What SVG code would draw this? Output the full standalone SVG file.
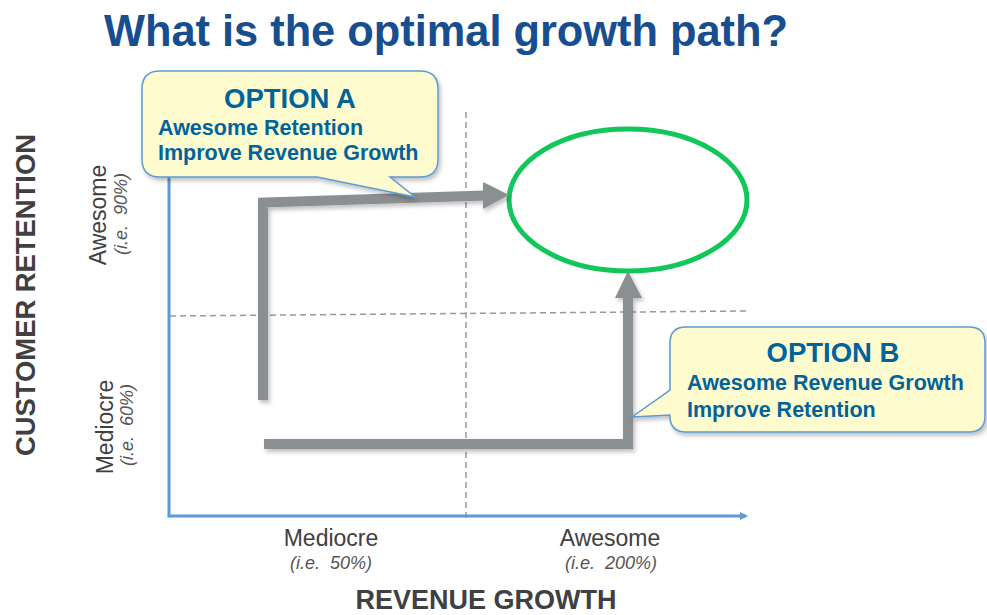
<svg xmlns="http://www.w3.org/2000/svg" width="987" height="615" viewBox="0 0 987 615">
<defs>
<style>
.axis{stroke:#5b9bd5;stroke-width:3;fill:none}
.dash{stroke:#9a9a9a;stroke-width:1.5;stroke-dasharray:6 4;fill:none}
.path{stroke:#8a8f91;stroke-width:10;fill:none;stroke-linejoin:miter}
.head{fill:#8a8f91}
.callout{fill:#fefcce;stroke:#5b9bd5;stroke-width:1.5}
.ct{font-family:"Liberation Sans",Arial,sans-serif;font-weight:bold;fill:#00639a}
.lbl{font-family:"Liberation Sans",Arial,sans-serif;fill:#404040}
.it{font-family:"Liberation Sans",Arial,sans-serif;font-style:italic;fill:#555555;font-size:18px}
.ttl{font-family:"Liberation Sans",Arial,sans-serif;font-weight:bold;fill:#404040;font-size:27px}
</style>
<filter id="sh" x="-10%" y="-10%" width="130%" height="140%">
<feDropShadow dx="2" dy="3" stdDeviation="2" flood-color="#000" flood-opacity="0.25"/>
</filter>
<marker id="axarrow" markerWidth="8" markerHeight="8" refX="6" refY="4" orient="auto" markerUnits="userSpaceOnUse">
<path d="M0,0 L8,4 L0,8 Z" fill="#5b9bd5"/>
</marker>
</defs>
<rect width="987" height="615" fill="#ffffff"/>
<text x="446" y="46" text-anchor="middle" font-family="Liberation Sans, Arial, sans-serif" font-weight="bold" font-size="45" fill="#174e8f" textLength="684" lengthAdjust="spacingAndGlyphs">What is the optimal growth path?</text>

<g id="grid">
<line class="dash" x1="466" y1="112" x2="466" y2="522"/>
<line class="dash" x1="170" y1="316" x2="748" y2="311"/>
</g>

<g id="axes">
<line class="axis" x1="169" y1="516" x2="169" y2="172"/>
<line class="axis" x1="167.5" y1="516" x2="746" y2="516" marker-end="url(#axarrow)"/>
</g>

<g id="labels">
<text class="lbl" x="331" y="546" text-anchor="middle" font-size="23">Mediocre</text>
<text class="it" x="331" y="569" text-anchor="middle" xml:space="preserve">(i.e.  50%)</text>
<text class="lbl" x="610" y="546" text-anchor="middle" font-size="23">Awesome</text>
<text class="it" x="611" y="569" text-anchor="middle" xml:space="preserve">(i.e.  200%)</text>
<text class="ttl" x="486" y="609" text-anchor="middle">REVENUE GROWTH</text>
<text class="ttl" transform="translate(35,295) rotate(-90)" text-anchor="middle" textLength="322" lengthAdjust="spacingAndGlyphs">CUSTOMER RETENTION</text>
<text class="lbl" transform="translate(106,215) rotate(-90)" text-anchor="middle" font-size="23">Awesome</text>
<text class="it" transform="translate(127,214) rotate(-90)" text-anchor="middle" xml:space="preserve">(i.e.  90%)</text>
<text class="lbl" transform="translate(113,427) rotate(-90)" text-anchor="middle" font-size="23">Mediocre</text>
<text class="it" transform="translate(133,425) rotate(-90)" text-anchor="middle" xml:space="preserve">(i.e.  60%)</text>
</g>

<g id="goal">
<ellipse cx="628" cy="200" rx="119" ry="71" fill="none" stroke="#12c75a" stroke-width="5"/>
</g>

<g id="connectors" filter="url(#sh)">
<polyline class="path" points="263,400 263,202.5 485,195.5"/>
<polygon class="head" points="483,182 509,195 483,209"/>
<polyline class="path" points="264,444 628,444 628,296"/>
<polygon class="head" points="615,298 628,271 642,298"/>
</g>

<g id="optionA">
<path class="callout" filter="url(#sh)" d="M160,71 H420 Q438,71 438,89 V159 Q438,177 420,177 H390 L415,197 L317,177 H160 Q142,177 142,159 V89 Q142,71 160,71 Z"/>
<text class="ct" x="290" y="108" text-anchor="middle" font-size="27.5">OPTION A</text>
<text class="ct" x="158" y="135" font-size="21.5">Awesome Retention</text>
<text class="ct" x="158" y="160" font-size="21.5">Improve Revenue Growth</text>
</g>

<g id="optionB">
<path class="callout" filter="url(#sh)" d="M686,327 H969 Q985,327 985,343 V416 Q985,432 969,432 H686 Q670,432 670,416 V415 L632,417 L670,390 V343 Q670,327 686,327 Z"/>
<text class="ct" x="833" y="362" text-anchor="middle" font-size="27.5">OPTION B</text>
<text class="ct" x="687" y="390" font-size="21.5">Awesome Revenue Growth</text>
<text class="ct" x="687" y="417" font-size="21.5">Improve Retention</text>
</g>
</svg>
